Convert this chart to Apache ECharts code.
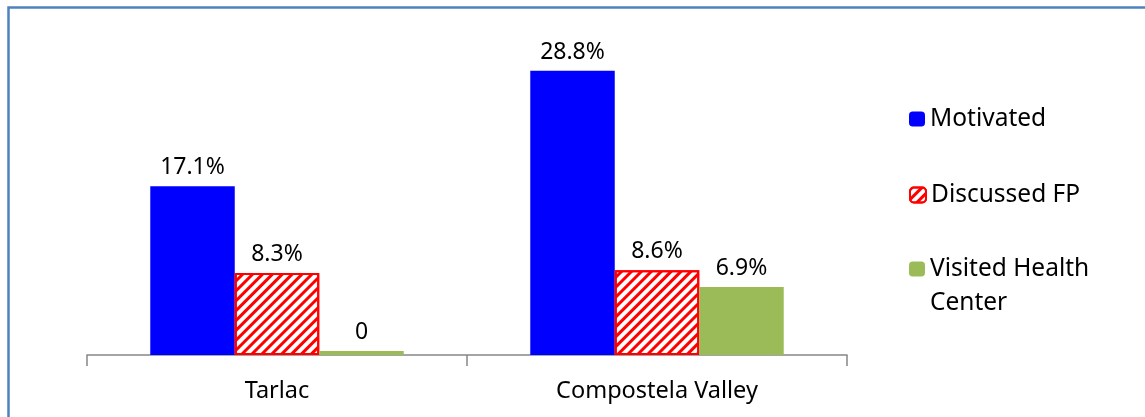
<!DOCTYPE html>
<html>
<head>
<meta charset="utf-8">
<script src="https://cdn.jsdelivr.net/npm/echarts@6/dist/echarts.min.js"></script>
<style>
  html, body { margin: 0; padding: 0; background: #fff; }
  #chart { width: 1145px; height: 417px; }
</style>
</head>
<body>
<div id="chart"></div>
<script>
// Share of respondents by province
const categories = ['Tarlac', 'Compostela Valley'];
const seriesNames = ['Motivated', 'Discussed FP', 'Visited Health Center'];
const motivated = [17.1, 28.8];
const discussedFP = [8.3, 8.6];
const visitedHealthCenter = [0, 6.9];

const FONT = '"Noto Sans", "DejaVu Sans", sans-serif';

function pctLabel(p) {
  return p.value === 0 ? '0' : p.value.toFixed(1) + '%';
}

const labelStyle = {
  show: true,
  position: 'top',
  distance: 7,
  formatter: pctLabel,
  color: '#000',
  fontFamily: FONT,
  fontSize: 23
};

const legendText = { color: '#000', fontFamily: FONT, fontSize: 24.5, lineHeight: 34 };

const chart = echarts.init(document.getElementById('chart'), null, { renderer: 'canvas' });

chart.setOption({
  animation: false,
  backgroundColor: '#fff',
  graphic: [{
    type: 'rect',
    left: 6, top: 5,
    shape: { x: 0, y: 0, width: 1200, height: 500 },
    style: { fill: 'none', stroke: '#4F81BD', lineWidth: 2.5 },
    silent: true
  }],
  grid: { left: 87, right: 298, top: 59, bottom: 62, containLabel: false },
  xAxis: {
    type: 'category',
    data: categories,
    boundaryGap: true,
    axisLine: { lineStyle: { color: '#868686', width: 1.5 } },
    axisTick: { show: true, length: 11, alignWithLabel: false, lineStyle: { color: '#868686', width: 1.5 } },
    axisLabel: { color: '#000', fontFamily: FONT, fontSize: 23.5, margin: 24 }
  },
  yAxis: {
    type: 'value',
    min: 0, max: 30,
    show: false,
    splitLine: { show: false }
  },
  legend: [
    {
      orient: 'vertical', left: 909, top: 102, padding: 0,
      itemWidth: 16, itemHeight: 15, itemGap: 0,
      textStyle: legendText,
      data: [seriesNames[0]]
    },
    {
      orient: 'vertical', left: 909, top: 178, padding: 0,
      itemWidth: 16, itemHeight: 15, itemGap: 0,
      textStyle: legendText,
      data: [seriesNames[1]]
    },
    {
      // blank first line keeps the icon level with "Visited Health"
      orient: 'vertical', left: 909, top: 218, padding: 0,
      itemWidth: 16, itemHeight: 15, itemGap: 0,
      formatter: function () { return ' \nVisited Health\nCenter'; },
      textStyle: legendText,
      data: [seriesNames[2]]
    }
  ],
  series: [
    {
      name: seriesNames[0],
      type: 'bar',
      data: motivated,
      barGap: '0%',
      barCategoryGap: '33.3%',
      itemStyle: { color: '#0000FF' },
      label: labelStyle
    },
    {
      name: seriesNames[1],
      type: 'bar',
      data: discussedFP,
      itemStyle: {
        color: '#FFFFFF',
        borderColor: '#FF0000',
        borderWidth: 2,
        decal: {
          symbol: 'rect',
          symbolSize: 1,
          dashArrayX: [1, 0],
          dashArrayY: [2.6, 3.4],
          rotation: -Math.PI / 4,
          color: '#FF0000'
        }
      },
      label: labelStyle
    },
    {
      name: seriesNames[2],
      type: 'bar',
      data: visitedHealthCenter,
      barMinHeight: 4,
      itemStyle: { color: '#9BBB59' },
      label: labelStyle
    }
  ]
});
</script>
</body>
</html>
